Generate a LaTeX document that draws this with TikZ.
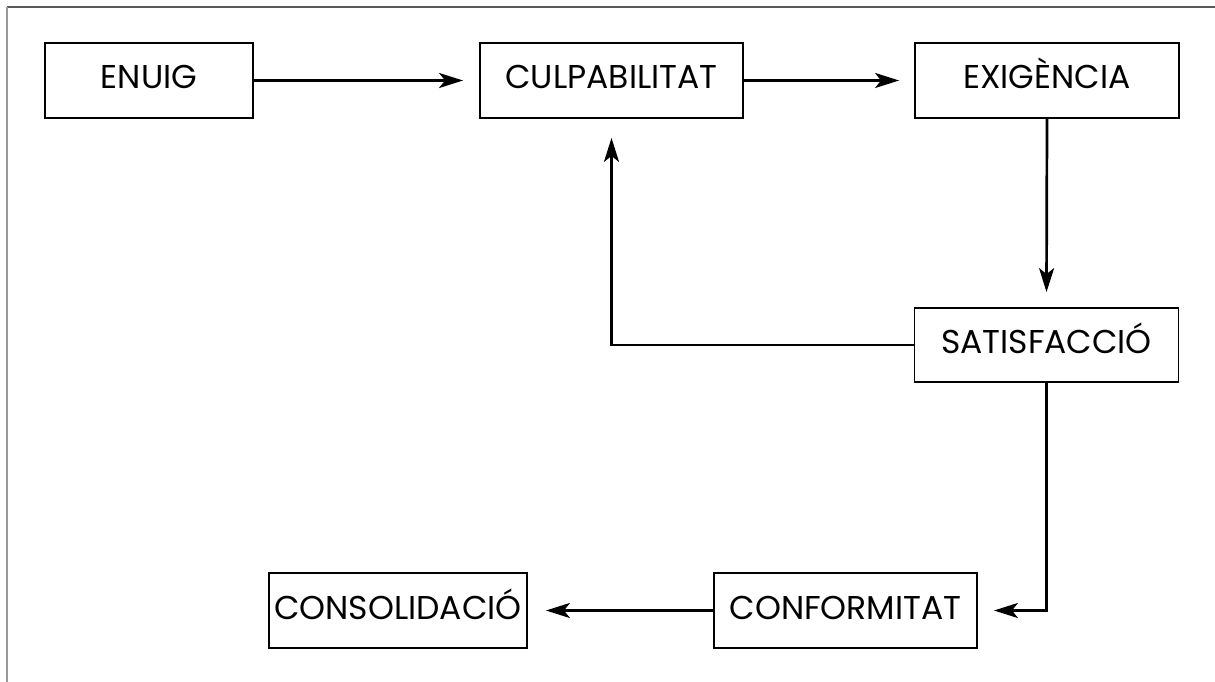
\documentclass[tikz,border=0pt]{standalone}
\usepackage{fontspec}
\setmainfont{Poppins}
\usetikzlibrary{arrows.meta}
\tikzset{
  box/.style={draw=black, line width=1.8pt, minimum height=75pt, inner sep=0pt, text height=23pt, text depth=6pt, font=\fontsize{33}{36}\selectfont},
  arr/.style={line width=2.7pt, -{Stealth[length=24pt,width=15pt,inset=6pt]}}
}
\begin{document}
\begin{tikzpicture}[x=1pt,y=-1pt]
\useasboundingbox (0,0) rectangle (1215,682);
\draw[line width=1.5pt, color=black!65] (7,7) -- (1215,7);
\draw[line width=1.5pt, color=black!40] (7,7) -- (7,682);
\node[box, minimum width=208pt] (enuig) at (149,80.5) {ENUIG};
\node[box, minimum width=263pt] (cul) at (611.5,80.5) {CULPABILITAT};
\node[box, minimum width=264pt] (exig) at (1047,80.5) {EXIGÈNCIA};
\node[box, minimum width=264pt, minimum height=74pt] (sat) at (1046.5,345) {SATISFACCIÓ};
\node[box, minimum width=263pt] (conf) at (845.5,610.5) {CONFORMITAT};
\node[box, minimum width=258pt] (cons) at (398,610.5) {CONSOLIDACIÓ};
\draw[arr] (enuig.east) -- ([xshift=-16pt]cul.west);
\draw[arr] (cul.east) -- ([xshift=-15pt]exig.west);
\draw[arr] (exig.south) -- ([yshift=15pt]sat.north);
\draw[arr] (sat.west) -- (sat.west -| cul.south) -- ([yshift=-19pt]cul.south);
\draw[arr] (sat.south) -- (sat.south |- conf.east) -- ([xshift=16pt]conf.east);
\draw[arr] (conf.west) -- ([xshift=18pt]cons.east);
\end{tikzpicture}
\end{document}
